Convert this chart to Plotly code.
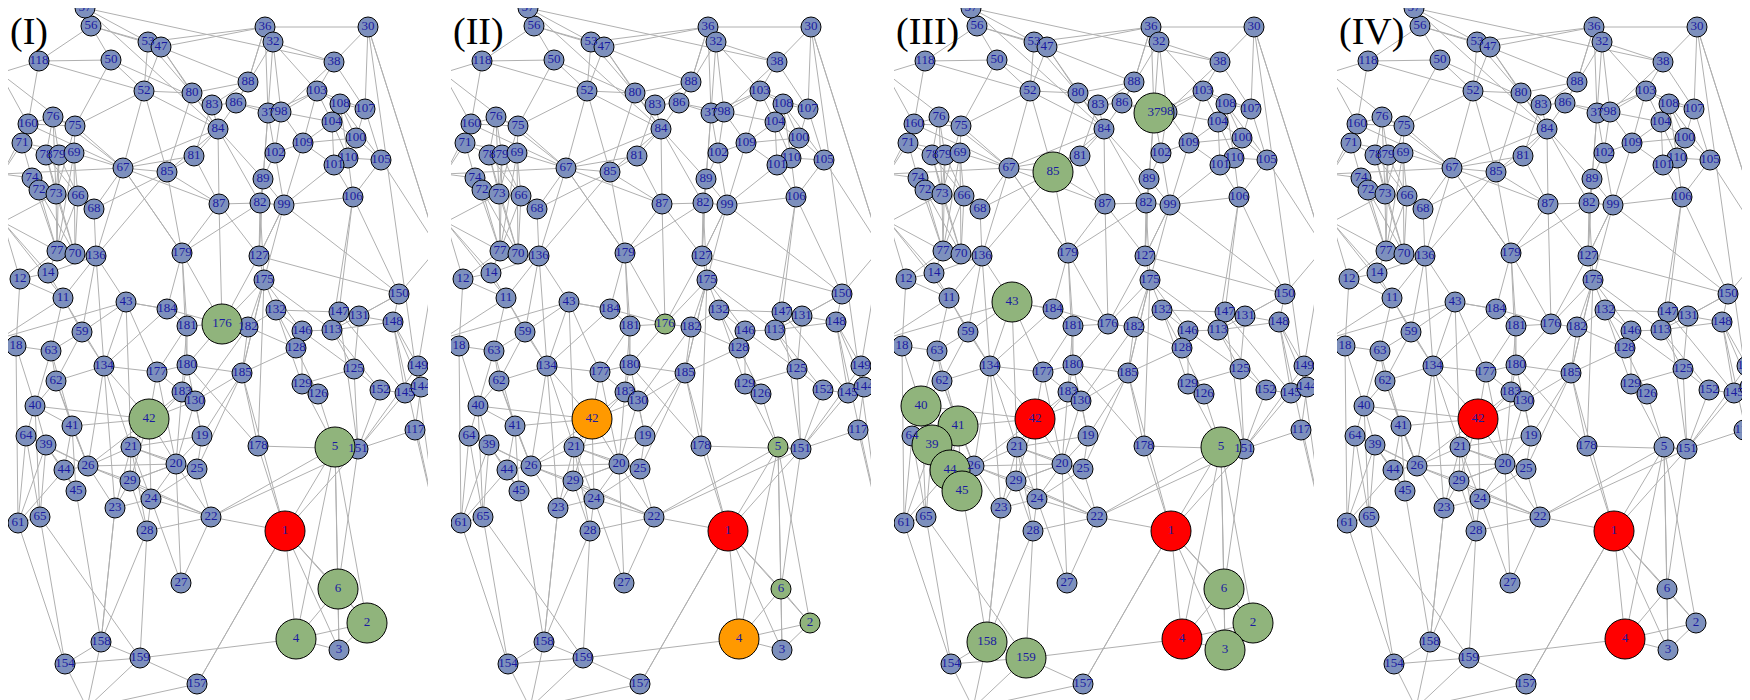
import plotly.graph_objects as go

# node ids and layout positions (same layout in every panel)
node_ids = [56, 57, 36, 30, 53, 47, 32, 118, 50, 38, 52, 80, 88, 83, 86, 103, 108, 107,
            37, 98, 160, 76, 75, 104, 84, 71, 100, 109, 78, 79, 69, 81, 102, 110, 101,
            105, 67, 85, 89, 74, 72, 73, 66, 68, 87, 82, 99, 106, 77, 70, 136, 179, 127,
            12, 14, 175, 150, 11, 43, 184, 132, 147, 131, 148, 176, 181, 182, 146, 113,
            59, 18, 63, 128, 134, 177, 180, 185, 125, 149, 62, 129, 126, 152, 145, 144,
            183, 130, 40, 42, 41, 19, 117, 64, 39, 21, 178, 5, 151, 44, 26, 20, 25, 29,
            45, 24, 23, 22, 61, 65, 28, 1, 27, 6, 2, 4, 3, 158, 154, 159, 157,
            15, 54, 58, 33, 9, 60, 155]
node_x = [83, 77, 257, 360, 140, 153, 265, 31, 103, 326, 136, 184, 240, 204, 228, 309, 332, 357,
          260, 273, 20, 45, 67, 324, 210, 14, 348, 295, 38, 51, 66, 186, 267, 340, 326,
          373, 115, 159, 255, 24, 31, 48, 70, 86, 211, 252, 276, 345, 49, 67, 88, 174, 251,
          12, 40, 256, 391, 55, 118, 159, 268, 331, 351, 385, 214, 179, 240, 294, 324,
          74, 8, 43, 288, 96, 149, 179, 234, 346, 410, 48, 294, 310, 372, 397, 413,
          174, 187, 27, 141, 64, 194, 407, 18, 38, 123, 250, 327, 350, 56, 80, 168, 189, 122,
          68, 143, 107, 203, 10, 32, 139, 277, 173, 330, 359, 288, 331, 93, 57, 132, 189,
          -8, -6, -5, -7, 79, 430, 430]
node_y = [18, 0, 19, 19, 34, 39, 34, 53, 52, 54, 83, 85, 74, 97, 95, 83, 96, 101,
          105, 104, 116, 109, 118, 114, 121, 135, 130, 135, 147, 147, 145, 148, 145, 150, 157,
          152, 160, 164, 171, 170, 182, 186, 188, 201, 196, 195, 197, 189, 243, 246, 248, 245, 248,
          271, 265, 272, 286, 290, 294, 301, 302, 304, 308, 314, 316, 318, 319, 323, 322,
          324, 338, 343, 340, 358, 364, 357, 365, 361, 358, 373, 376, 386, 382, 385, 379,
          384, 393, 398, 411, 418, 428, 422, 428, 437, 439, 438, 439, 441, 462, 458, 456, 461, 473,
          483, 491, 500, 509, 515, 509, 523, 523, 575, 581, 615, 631, 642, 634, 656, 650, 676,
          65, 166, 214, 330, 700, 240, 520]
# the last anchors are off-panel, without labels
n_labeled = 120

edges = [
    (1, 5), (1, 4), (1, 6), (1, 2), (1, 3), (1, 178), (1, 22), (1, 157), (1, 185), (1, 151),
    (5, 6), (5, 2), (5, 4), (5, 151), (5, 22), (5, 126), (5, 129), (6, 4), (6, 2), (6, 3),
    (2, 4), (2, 3), (4, 3), (4, 159), (151, 117), (151, 152), (151, 145), (151, 125), (151, 149),
    (151, 147), (178, 185), (178, 180), (178, 175), (159, 154), (159, 158), (159, 157), (159, 28),
    (159, 65), (157, 9), (154, 158), (154, 9), (154, 61), (154, 65), (158, 23), (158, 45), (158, 9),
    (28, 24), (28, 22), (28, 29), (28, 21), (27, 22), (27, 24), (27, 20), (22, 24), (22, 20),
    (22, 29), (22, 25), (22, 26), (19, 25), (19, 20), (19, 21), (19, 130), (19, 185), (20, 25),
    (20, 21), (20, 26), (20, 29), (24, 29), (24, 21), (24, 25), (23, 29), (23, 26), (23, 21),
    (29, 26), (29, 21), (29, 42), (21, 42), (21, 26), (21, 134), (26, 44), (26, 39), (26, 41),
    (26, 64), (26, 62), (42, 177), (42, 183), (42, 40), (42, 41), (42, 130), (42, 134), (42, 24),
    (44, 45), (44, 39), (44, 41), (39, 64), (39, 40), (39, 61), (64, 40), (64, 61), (40, 62),
    (40, 41), (41, 62), (41, 63), (61, 65), (61, 18), (65, 39), (45, 41), (62, 134), (62, 63),
    (63, 59), (63, 18), (59, 11), (59, 43), (59, 134), (18, 12), (134, 177), (134, 43), (134, 136),
    (177, 180), (177, 183), (177, 181), (180, 185), (180, 183), (180, 181), (183, 130),
    (130, 185), (130, 182), (185, 128), (185, 175), (185, 182), (181, 184), (181, 176),
    (176, 184), (176, 182), (176, 175), (176, 179), (176, 127), (176, 87), (182, 132), (182, 175),
    (184, 179), (184, 43), (179, 85), (179, 87), (179, 67), (127, 175), (127, 99), (127, 82),
    (127, 150), (175, 132), (175, 146), (175, 113), (132, 146), (132, 147), (132, 128),
    (146, 113), (146, 129), (146, 128), (113, 147), (113, 131), (113, 148), (113, 125),
    (147, 131), (131, 148), (131, 150), (148, 150), (148, 149), (148, 144), (149, 144),
    (145, 152), (145, 144), (152, 125), (125, 129), (129, 126), (126, 128), (150, 60),
    (117, 144), (106, 110), (106, 101), (106, 113), (106, 147), (105, 110), (105, 100),
    (105, 107), (110, 101), (110, 100), (110, 104), (101, 104), (101, 109), (100, 104),
    (100, 107), (100, 108), (104, 108), (104, 103), (104, 109), (108, 103), (108, 107),
    (107, 103), (103, 109), (103, 98), (109, 98), (109, 102), (109, 99), (102, 98), (102, 89),
    (98, 37), (37, 86), (37, 32), (37, 36), (37, 89), (98, 38), (38, 30), (38, 32), (38, 103),
    (30, 36), (30, 155), (30, 60), (36, 32), (32, 86), (36, 53), (88, 86), (88, 83), (88, 36),
    (86, 83), (86, 84), (83, 80), (83, 84), (80, 52), (80, 84), (84, 81), (84, 87), (84, 89),
    (81, 85), (81, 67), (89, 82), (89, 99), (82, 87), (82, 99), (99, 106), (99, 101),
    (87, 85), (85, 67), (52, 53), (52, 47), (52, 50), (52, 67), (52, 75), (53, 47), (53, 56),
    (53, 57), (47, 56), (47, 80), (56, 57), (56, 50), (56, 118), (50, 118), (50, 75),
    (118, 160), (118, 15), (160, 76), (160, 71), (160, 75), (160, 15), (76, 75), (76, 78),
    (76, 79), (75, 69), (75, 67), (71, 78), (71, 74), (71, 54), (78, 79), (79, 69), (78, 73),
    (79, 73), (69, 66), (69, 67), (69, 70), (74, 72), (74, 73), (74, 54), (72, 73), (72, 77),
    (73, 66), (73, 77), (66, 68), (66, 70), (68, 67), (68, 136), (77, 70), (77, 14), (77, 12),
    (70, 136), (70, 78), (136, 67), (136, 43), (136, 11), (14, 12), (14, 11), (12, 58),
    (11, 33), (11, 58), (43, 33), (43, 184), (58, 73), (33, 18), (54, 160), (79, 77),
    (85, 52), (67, 87), (179, 82), (127, 89), (99, 175), (22, 151), (157, 1), (159, 9),
    # extra long-range links
    (57, 38), (57, 84), (53, 88), (47, 36), (50, 83), (118, 52), (15, 67), (54, 67),
    (160, 67), (71, 69), (78, 66), (79, 66), (76, 73), (75, 73), (69, 77), (66, 77),
    (73, 70), (72, 70), (74, 77), (58, 14), (58, 77), (12, 11), (14, 136), (11, 63),
    (11, 134), (18, 40), (63, 40), (62, 59), (59, 136), (43, 177), (43, 21), (134, 26),
    (134, 23), (177, 20), (180, 19), (183, 21), (130, 20), (185, 25), (181, 20), (184, 134),
    (179, 180), (179, 181), (176, 180), (182, 128), (175, 185), (132, 129), (146, 125),
    (113, 152), (147, 145), (131, 125), (148, 145), (150, 131), (150, 106), (60, 149),
    (60, 105), (155, 117), (155, 148), (106, 105), (99, 102), (82, 84), (87, 81), (85, 84),
    (85, 80), (67, 84), (81, 83), (102, 37), (89, 37), (98, 86), (98, 104), (37, 103),
    (109, 100), (101, 100), (110, 108), (105, 108), (107, 38), (30, 107), (30, 60),
    (36, 88), (32, 98), (32, 103), (80, 88), (52, 84), (47, 84), (53, 80), (136, 85),
    (68, 85), (67, 179), (87, 127), (82, 175), (99, 127), (99, 150), (89, 127),
    (41, 26), (39, 45), (44, 61), (64, 65), (40, 65), (23, 24), (23, 158), (28, 158),
    (29, 20), (24, 20), (21, 25), (42, 20), (42, 26), (178, 151), (5, 3), (6, 151),
]

labels = ["(I)", "(II)", "(III)", "(IV)"]
BLUE, GREEN, RED, ORANGE = "#7d90bd", "#90b47c", "#ff0000", "#ff9900"

# panel-specific highlights: {node: (colour, big?)}
panel_marks = [
    {1: (RED, True), 5: (GREEN, True), 6: (GREEN, True), 2: (GREEN, True), 4: (GREEN, True),
     42: (GREEN, True), 176: (GREEN, True)},
    {1: (RED, True), 42: (ORANGE, True), 4: (ORANGE, True), 5: (GREEN, False),
     6: (GREEN, False), 2: (GREEN, False), 176: (GREEN, False)},
    {1: (RED, True), 42: (RED, True), 4: (RED, True), 37: (GREEN, True), 85: (GREEN, True),
     43: (GREEN, True), 40: (GREEN, True), 41: (GREEN, True), 39: (GREEN, True),
     44: (GREEN, True), 45: (GREEN, True), 5: (GREEN, True), 6: (GREEN, True),
     2: (GREEN, True), 3: (GREEN, True), 158: (GREEN, True), 159: (GREEN, True)},
    {1: (RED, True), 42: (RED, True), 4: (RED, True)},
]

pos = {n: (x, y) for n, x, y in zip(node_ids, node_x, node_y)}

fig = go.Figure()
for k in range(4):
    ax = "" if k == 0 else str(k + 1)
    ex, ey = [], []
    for a, b in edges:
        ex += [pos[a][0], pos[b][0], None]
        ey += [pos[a][1], pos[b][1], None]
    fig.add_trace(go.Scatter(x=ex, y=ey, mode="lines", line=dict(color="#b0b0b0", width=1),
                             hoverinfo="skip", showlegend=False,
                             xaxis="x" + ax, yaxis="y" + ax))
    marks = panel_marks[k]
    order = sorted(range(n_labeled), key=lambda i: node_ids[i] in marks)
    xs = [node_x[i] for i in order]
    ys = [node_y[i] for i in order]
    txt = [str(node_ids[i]) for i in order]
    cols = [marks.get(node_ids[i], (BLUE, False))[0] for i in order]
    sizes = [40 if marks.get(node_ids[i], (BLUE, False))[1] else 20 for i in order]
    fig.add_trace(go.Scatter(x=xs, y=ys, mode="markers+text", text=txt,
                             textfont=dict(family="Liberation Serif", size=13, color="#1a1aa0"),
                             marker=dict(size=sizes, color=cols, opacity=1,
                                         line=dict(color="black", width=1)),
                             showlegend=False, xaxis="x" + ax, yaxis="y" + ax))
    d0 = k * 443 / 1750
    d1 = min(1.0, (k * 443 + 420) / 1750)
    fig.update_layout(**{
        "xaxis" + ax: dict(domain=[d0, d1], range=[0, 420], visible=False, fixedrange=True),
        "yaxis" + ax: dict(domain=[0, 1], range=[700, 0], visible=False, fixedrange=True,
                           anchor="x" + ax),
    })
    fig.add_annotation(text=labels[k], xref="paper", yref="paper", x=d0, y=1.0,
                       xanchor="left", yanchor="top", showarrow=False,
                       font=dict(family="Liberation Serif", size=38, color="black"))

fig.update_layout(width=1750, height=700, margin=dict(l=0, r=0, t=0, b=0),
                  plot_bgcolor="white", paper_bgcolor="white")
fig.write_html("out.html")
